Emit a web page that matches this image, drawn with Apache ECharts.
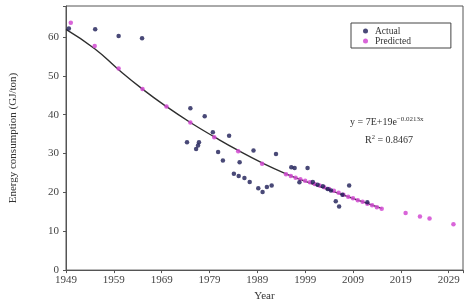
<!DOCTYPE html>
<html><head><meta charset="utf-8">
<script src="https://cdn.jsdelivr.net/npm/echarts@6/dist/echarts.min.js"></script>
<style>html,body{margin:0;padding:0;background:#fff}#c{width:472px;height:307px}</style>
</head><body><div id="c"></div>
<script>
const xTicks = [1949, 1959, 1969, 1979, 1989, 1999, 2009, 2019, 2029];
const yTicks = [0, 10, 20, 30, 40, 50, 60];
const actual = [
 [1949.6,62.2],[1955.1,62.0],[1960.0,60.3],[1964.9,59.7],
 [1974.3,32.9],[1975.0,41.7],[1976.2,31.2],[1976.6,32.1],[1976.8,32.9],[1978.0,39.6],
 [1979.7,35.5],[1980.8,30.4],[1981.8,28.2],[1983.1,34.6],[1984.1,24.8],[1985.1,24.2],
 [1985.3,27.8],[1986.3,23.7],[1987.4,22.7],[1988.2,30.8],[1989.2,21.1],[1990.1,20.1],
 [1991.0,21.4],[1992.0,21.8],[1992.9,29.9],[1996.1,26.5],[1996.8,26.3],[1997.8,22.6],
 [1999.5,26.3],[2000.6,22.7],[2001.6,22.0],[2002.7,21.6],[2003.7,20.9],[2004.4,20.5],
 [2005.4,17.7],[2006.1,16.4],[2006.8,19.4],[2008.2,21.8],[2012.0,17.5]
];
const predicted = [
 [1950,63.7],[1955,57.7],[1960,51.9],[1965,46.6],[1970,42.1],[1975,38.0],[1980,34.2],
 [1985,30.6],[1990,27.4],[1995,24.7],[1996,24.2],[1997,23.8],[1998,23.4],[1999,23.0],
 [2000,22.6],[2001,22.2],[2002,21.8],[2003,21.3],[2004,20.9],[2005,20.4],[2006,19.9],
 [2007,19.4],[2008,18.9],[2009,18.5],[2010,18.0],[2011,17.6],[2012,17.1],[2013,16.7],
 [2014,16.2],[2015,15.8],[2020,14.7],[2023,13.8],[2025,13.3],[2030,11.8]
];
const trend = [
 [1949,62.0],[1955,57.0],[1960,51.6],[1965,46.6],[1970,42.1],[1975,38.0],[1980,34.3],
 [1985,30.8],[1990,27.6],[1995,24.8],[2000,22.4],[2005,20.2],[2010,18.0],[2015,15.9]
];
const chart = echarts.init(document.getElementById('c'));
const font = '"Liberation Serif", "DejaVu Serif", serif';
chart.setOption({
  animation: false,
  grid: {left: 64, right: 9, top: 6, bottom: 35, show: true, borderColor: '#555', borderWidth: 1},
  xAxis: {
    type: 'value', min: 1949, max: 2032, interval: 10,
    name: 'Year', nameLocation: 'middle', nameGap: 20,
    nameTextStyle: {fontFamily: font, fontSize: 11, color: '#333'},
    axisLine: {show: true, lineStyle: {color: '#555'}},
    axisTick: {show: true, length: 3, inside: false, lineStyle: {color: '#555'}},
    splitLine: {show: false},
    axisLabel: {fontFamily: font, fontSize: 11, color: '#444', margin: 5,
      formatter: v => xTicks.includes(v) ? String(v) : ''}
  },
  yAxis: {
    type: 'value', min: 0, max: 68, interval: 10,
    name: 'Energy consumption (GJ/ton)', nameLocation: 'middle', nameGap: 47,
    nameTextStyle: {fontFamily: font, fontSize: 11, color: '#333'},
    axisLine: {show: true, lineStyle: {color: '#555'}},
    axisTick: {show: true, length: 3, lineStyle: {color: '#555'}},
    splitLine: {show: false},
    axisLabel: {fontFamily: font, fontSize: 11, color: '#444', margin: 7,
      formatter: v => yTicks.includes(v) ? String(v) : ''}
  },
  legend: {
    orient: 'vertical', left: 351, top: 23, width: 96,
    borderColor: '#444', borderWidth: 1, padding: [3, 40, 2, 12],
    itemWidth: 5, itemHeight: 5, itemGap: 0,
    textStyle: {fontFamily: font, fontSize: 9.5, color: '#333', padding: [0,0,0,2]},
    data: [{name: 'Actual', icon: 'circle'}, {name: 'Predicted', icon: 'circle'}]
  },
  series: [
    {name: 'Trend', type: 'line', data: trend, smooth: true, symbol: 'none',
     lineStyle: {color: '#2e2e2e', width: 1.4}, z: 1},
    {name: 'Predicted', type: 'scatter', data: predicted, symbolSize: 4.5,
     itemStyle: {color: '#d24ad2', opacity: 0.85}, z: 2},
    {name: 'Actual', type: 'scatter', data: actual, symbolSize: 4.5,
     itemStyle: {color: '#1c1c55'}, z: 3}
  ],
  graphic: [
    {type: 'text', left: 350, top: 116, style: {
      text: '{a|y = 7E+19e}{s|−0.0213x}', rich: {
        a: {fontFamily: font, fontSize: 10, fill: '#333'},
        s: {fontFamily: font, fontSize: 7, fill: '#333', padding: [0,0,6,0]}
      }}},
    {type: 'text', left: 365, top: 134, style: {
      text: '{a|R}{s|2}{a| = 0.8467}', rich: {
        a: {fontFamily: font, fontSize: 10, fill: '#333'},
        s: {fontFamily: font, fontSize: 6.5, fill: '#333', padding: [0,0,5,0]}
      }}}
  ]
});
</script></body></html>
